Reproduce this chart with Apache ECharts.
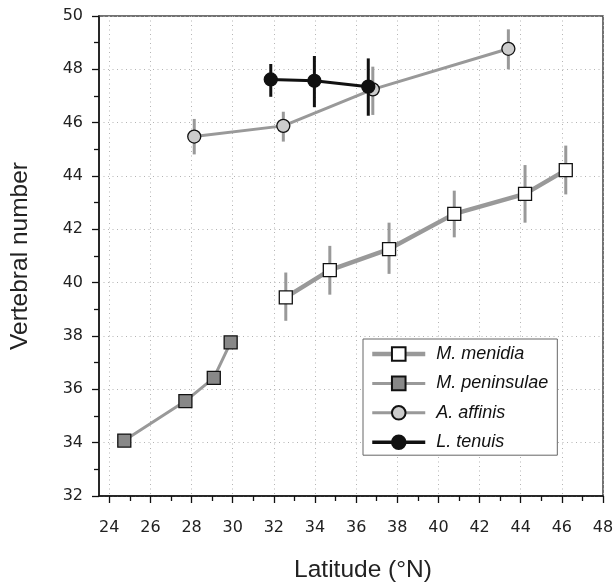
<!DOCTYPE html>
<html>
<head>
<meta charset="utf-8">
<script src="https://cdn.jsdelivr.net/npm/echarts@6/dist/echarts.min.js"></script>
<style>
  html, body { margin: 0; padding: 0; background: #fff; }
  #chart { width: 616px; height: 582px; }
</style>
</head>
<body>
<div id="chart"></div>
<script>
// tick labels
const xTicks = [24, 26, 28, 30, 32, 34, 36, 38, 40, 42, 44, 46, 48]
const xMinorTicks = xTicks.slice(0, -1).map(v => v + 1)

// M. menidia
const menidiaLat = [32.58, 34.72, 37.6, 40.77, 44.21, 46.19]
const menidiaVert = [39.45, 40.47, 41.26, 42.58, 43.33, 44.22]
const menidiaLo = [38.57, 39.55, 40.33, 41.7, 42.25, 43.31]
const menidiaHi = [40.38, 41.38, 42.25, 43.45, 44.41, 45.14]

// M. peninsulae
const peninsulaeLat = [24.73, 27.7, 29.08, 29.9]
const peninsulaeVert = [34.08, 35.56, 36.43, 37.76]

// A. affinis
const affinisLat = [28.13, 32.46, 36.81, 43.4]
const affinisVert = [45.48, 45.88, 47.25, 48.77]
const affinisLo = [44.81, 45.29, 46.29, 48.0]
const affinisHi = [46.14, 46.41, 48.1, 49.5]

// L. tenuis
const tenuisLat = [31.85, 33.97, 36.59]
const tenuisVert = [47.62, 47.57, 47.35]
const tenuisLo = [46.97, 46.58, 46.26]
const tenuisHi = [48.2, 48.5, 48.41]

const pts = (xs, ys) => xs.map((x, i) => [x, ys[i]])
const bars = (xs, lo, hi) => xs.map((x, i) => [x, lo[i], hi[i]])

const errorBars = function (name, data, color, width, z) {
    return {
        name: name,
        type: 'custom',
        z: z,
        silent: true,
        data: data,
        encode: { x: 0, y: [1, 2] },
        renderItem: function (params, api) {
            let p1 = api.coord([api.value(0), api.value(1)])
            let p2 = api.coord([api.value(0), api.value(2)])
            return {
                type: 'line',
                shape: { x1: p1[0], y1: p1[1], x2: p2[0], y2: p2[1] },
                style: { stroke: color, lineWidth: width }
            }
        }
    }
}

const lineSeries = function (name, data, symbol, fill, lineColor, lineWidth, z) {
    return {
        name: name,
        type: 'line',
        z: z,
        data: data,
        symbol: symbol,
        symbolSize: 13,
        showAllSymbol: true,
        lineStyle: { color: lineColor, width: lineWidth },
        itemStyle: { color: fill, borderColor: '#111', borderWidth: 1.3 }
    }
}

let myChart = echarts.init(document.getElementById('chart'))
myChart.setOption({
    animation: false,
    grid: {
        left: 99,
        right: 13,
        top: 16,
        bottom: 86,
        outerBoundsMode: 'none',
        show: true,
        borderColor: '#444',
        borderWidth: 1.5
    },
    legend: {
        data: [
            { name: 'M. menidia', lineStyle: { width: 4.5, color: '#999' } },
            { name: 'M. peninsulae', lineStyle: { width: 3, color: '#999' } },
            { name: 'A. affinis', lineStyle: { width: 3, color: '#999' } },
            { name: 'L. tenuis', lineStyle: { width: 3.5, color: '#111' } }
        ],
        orient: 'vertical',
        left: 363,
        top: 339,
        padding: [6, 9, 4, 7],
        itemWidth: 53,
        itemHeight: 17,
        itemGap: 11.4,
        backgroundColor: '#fff',
        borderColor: '#666',
        borderWidth: 1,
        textStyle: {
            fontFamily: 'Liberation Sans',
            fontStyle: 'italic',
            fontSize: 18,
            color: '#111',
            padding: [0, 0, 0, 6]
        }
    },
    xAxis: [
        {
            type: 'value',
            min: 23.5,
            max: 48,
            name: 'Latitude (°N)',
            nameLocation: 'middle',
            nameGap: 62,
            nameTextStyle: { fontFamily: 'Liberation Sans', fontSize: 24.5, color: '#222', padding: [0, 0, 0, 24] },
            axisLine: { lineStyle: { color: '#111', width: 1.5 } },
            axisTick: { customValues: xTicks, length: 7, lineStyle: { color: '#111', width: 1.3 } },
            axisLabel: { customValues: xTicks, margin: 24, fontFamily: 'DejaVu Sans', fontSize: 16, color: '#222' },
            splitLine: { show: true, lineStyle: { color: '#b4b4b4', type: [1, 3.5], width: 1 } }
        },
        {
            type: 'value',
            min: 23.5,
            max: 48,
            position: 'bottom',
            axisLine: { show: false },
            axisTick: { customValues: xMinorTicks, length: 5, lineStyle: { color: '#111', width: 1.3 } },
            axisLabel: { show: false },
            splitLine: { show: false }
        }
    ],
    yAxis: {
        type: 'value',
        min: 32,
        max: 50,
        interval: 2,
        name: 'Vertebral number',
        nameLocation: 'middle',
        nameGap: 66,
        nameTextStyle: { fontFamily: 'Liberation Sans', fontSize: 24.5, color: '#222' },
        axisLine: { lineStyle: { color: '#111', width: 1.5 } },
        axisTick: { length: 7, lineStyle: { color: '#111', width: 1.3 } },
        minorTick: { show: true, splitNumber: 2, length: 5, lineStyle: { color: '#111', width: 1.3 } },
        axisLabel: { margin: 16, fontFamily: 'DejaVu Sans', fontSize: 16, color: '#222' },
        splitLine: { show: true, lineStyle: { color: '#b4b4b4', type: [1, 3.5], width: 1 } }
    },
    series: [
        errorBars('err menidia', bars(menidiaLat, menidiaLo, menidiaHi), '#999', 3, 2),
        errorBars('err affinis', bars(affinisLat, affinisLo, affinisHi), '#999', 3, 2),
        lineSeries('M. menidia', pts(menidiaLat, menidiaVert), 'rect', '#fff', '#999', 4.5, 3),
        lineSeries('M. peninsulae', pts(peninsulaeLat, peninsulaeVert), 'rect', '#888', '#999', 3, 3),
        lineSeries('A. affinis', pts(affinisLat, affinisVert), 'circle', '#ccc', '#999', 3, 3),
        errorBars('err tenuis', bars(tenuisLat, tenuisLo, tenuisHi), '#111', 3, 4),
        lineSeries('L. tenuis', pts(tenuisLat, tenuisVert), 'circle', '#111', '#111', 3, 5)
    ]
})
</script>
</body>
</html>
